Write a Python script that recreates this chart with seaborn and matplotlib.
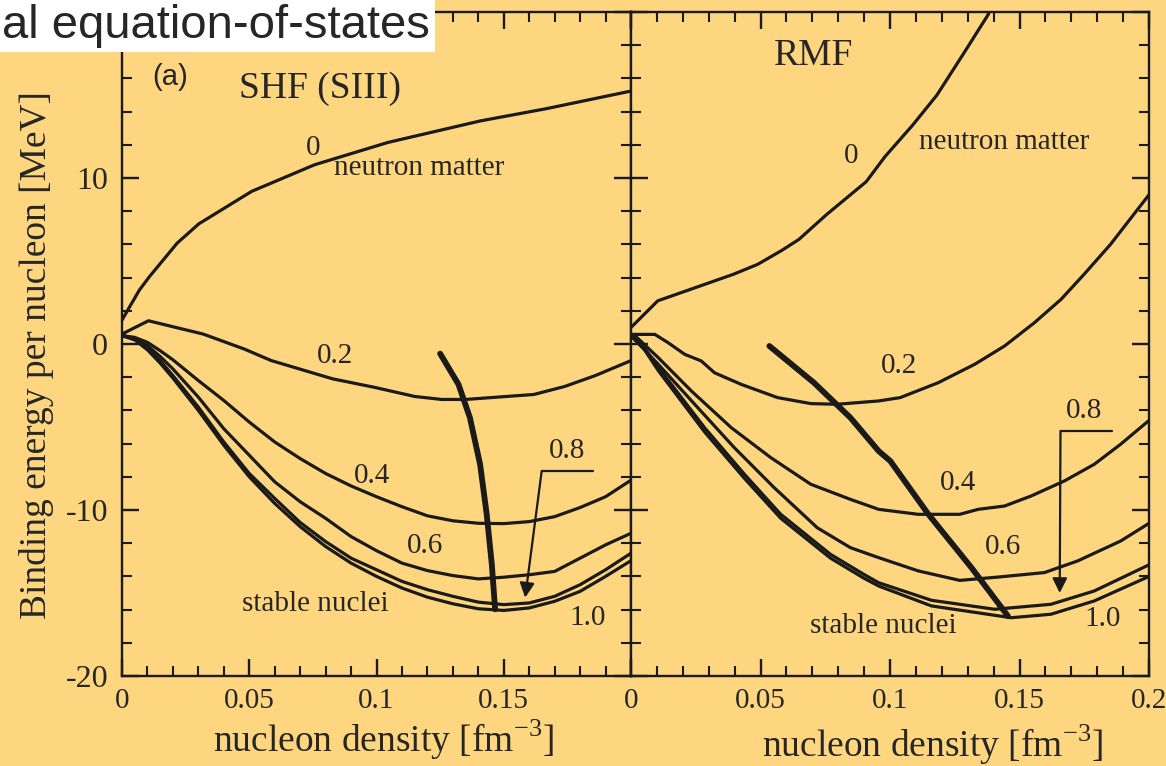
import numpy as np
import pandas as pd
import matplotlib
matplotlib.use('Agg')
import matplotlib.pyplot as plt
import seaborn as sns
from matplotlib.patches import Rectangle
from matplotlib.ticker import MultipleLocator

# ---- data (density in fm^-3, energy in MeV) ----
frac_labels = ['0', '0.2', '0.4', '0.6', '0.8', '1.0']

grid = [0, 0.005, 0.01, 0.015, 0.02, 0.03, 0.04, 0.05, 0.06, 0.07, 0.08, 0.09,
        0.1, 0.11, 0.12, 0.13, 0.14, 0.15, 0.16, 0.17, 0.18, 0.19, 0.2]

# SHF (SIII)
shf_x0 = [0, 0.0068, 0.0107, 0.0217, 0.0302, 0.051, 0.0757, 0.1044, 0.1408, 0.1668, 0.2]
shf_e0 = [1.44, 3.24, 4.04, 6.08, 7.24, 9.2, 10.8, 12.14, 13.44, 14.18, 15.24]
shf_x02 = [0, 0.0104, 0.0238, 0.0319, 0.048, 0.0587, 0.0828, 0.0989, 0.115, 0.1256,
           0.135, 0.1618, 0.1739, 0.186, 0.2]
shf_e02 = [0.6, 1.4, 0.9, 0.6, -0.3, -1.0, -2.1, -2.6, -3.16, -3.34,
           -3.34, -3.04, -2.56, -1.9, -1.0]
shf_e04 = [0.5, 0.4, 0.1, -0.4, -0.95, -2.2, -3.4, -4.7, -5.9, -6.9, -7.8, -8.55,
           -9.2, -9.8, -10.35, -10.65, -10.8, -10.82, -10.7, -10.4, -9.85, -9.2, -8.2]
shf_e06 = [0.5, 0.35, -0.1, -0.75, -1.5, -3.2, -5.1, -6.7, -8.3, -9.5, -10.5, -11.6,
           -12.45, -13.2, -13.65, -13.95, -14.15, -14.05, -13.9, -13.7, -12.9, -12.1, -11.4]
shf_e08 = [0.55, 0.3, -0.25, -1.0, -1.9, -3.8, -5.9, -7.8, -9.3, -10.75, -11.9, -12.9,
           -13.6, -14.3, -14.8, -15.2, -15.55, -15.7, -15.6, -15.2, -14.5, -13.6, -12.6]
shf_e10 = [0.5, 0.25, -0.35, -1.15, -2.05, -4.0, -6.1, -8.0, -9.6, -11.0, -12.2, -13.2,
           -14.0, -14.7, -15.25, -15.65, -15.95, -16.05, -15.9, -15.5, -14.9, -14.0, -13.05]
shf_stable_x = [0.125, 0.1322, 0.1367, 0.1407, 0.1433, 0.1453, 0.1466]
shf_stable_e = [-0.58, -2.43, -4.44, -7.25, -10.26, -13.27, -15.98]

# RMF
rmf_x0 = [0, 0.0103, 0.0249, 0.0395, 0.0489, 0.0582, 0.0648, 0.0755, 0.0908, 0.0981,
          0.1088, 0.1181, 0.1288, 0.1381]
rmf_e0 = [1.0, 2.6, 3.4, 4.2, 4.8, 5.64, 6.3, 7.8, 9.78, 11.3, 13.2, 15.0, 17.6, 19.9]
rmf_x02 = [0, 0.0092, 0.0143, 0.0207, 0.0271, 0.0322, 0.0425, 0.0566, 0.0694, 0.0796,
           0.0956, 0.1039, 0.1186, 0.1327, 0.1442, 0.1557, 0.166, 0.1749, 0.1851, 0.2]
rmf_e02 = [0.58, 0.58, 0.08, -0.62, -1.02, -1.73, -2.43, -3.23, -3.59, -3.63,
           -3.43, -3.23, -2.33, -1.22, -0.12, 1.28, 2.69, 4.2, 6.0, 9.0]
rmf_x04 = [0, 0.0022, 0.0105, 0.0233, 0.0387, 0.054, 0.0694, 0.0847, 0.0956, 0.1109,
           0.1269, 0.134, 0.1442, 0.1544, 0.1673, 0.1788, 0.189, 0.2]
rmf_e04 = [0.5, 0.4, -0.82, -2.83, -5.04, -6.85, -8.45, -9.36, -9.96, -10.26,
           -10.26, -9.96, -9.76, -9.16, -8.25, -7.25, -6.04, -4.6]
rmf_x06 = [0, 0.0105, 0.0258, 0.0399, 0.0553, 0.0719, 0.0847, 0.0956, 0.1109, 0.1269,
           0.1417, 0.1596, 0.1724, 0.189, 0.2]
rmf_e06 = [0.5, -1.22, -3.84, -6.25, -8.66, -11.07, -12.27, -12.87, -13.67, -14.24,
           -14.04, -13.77, -13.07, -11.87, -10.8]
rmf_x08 = [0, 0.005, 0.0105, 0.0284, 0.0438, 0.0578, 0.077, 0.0898, 0.0956, 0.116,
           0.1404, 0.1621, 0.1788, 0.2]
rmf_e08 = [0.5, -0.2, -1.4, -5.04, -7.85, -10.26, -12.67, -13.87, -14.38, -15.44,
           -15.98, -15.68, -14.88, -13.3]
rmf_x10 = [0, 0.005, 0.0105, 0.0284, 0.0438, 0.0578, 0.077, 0.0898, 0.0956, 0.116,
           0.1468, 0.1621, 0.1788, 0.2]
rmf_e10 = [0.5, -0.3, -1.6, -5.3, -8.1, -10.5, -12.9, -14.1, -14.58, -15.78,
           -16.49, -16.28, -15.48, -14.0]
rmf_stable_x = [0.0534, 0.0706, 0.0847, 0.0956, 0.1001, 0.1148, 0.1314, 0.1455]
rmf_stable_e = [-0.12, -2.33, -4.44, -6.45, -7.05, -10.26, -13.47, -16.39]

xtick_vals = [0, 0.05, 0.1, 0.15, 0.2]
xtick_text = ['0', '0.05', '0.1', '0.15', '0.2']
ytick_vals = [-20, -10, 0, 10, 20]
ytick_text = ['-20', '-10', '0', '10', '']

BG = '#FED67F'


def long_table(xs, es):
    rows = []
    for lab, x, e in zip(frac_labels, xs, es):
        rows.append(pd.DataFrame({'rho': x, 'E': e, 'frac': lab}))
    return pd.concat(rows, ignore_index=True)


shf_df = long_table([shf_x0, shf_x02, grid, grid, grid, grid],
                    [shf_e0, shf_e02, shf_e04, shf_e06, shf_e08, shf_e10])
rmf_df = long_table([rmf_x0, rmf_x02, rmf_x04, rmf_x06, rmf_x08, rmf_x10],
                    [rmf_e0, rmf_e02, rmf_e04, rmf_e06, rmf_e08, rmf_e10])

sns.set_theme(style='ticks')
plt.rcParams['font.family'] = ['Liberation Serif', 'DejaVu Serif']
plt.rcParams['mathtext.fontset'] = 'custom'
plt.rcParams['mathtext.rm'] = 'Liberation Serif'
plt.rcParams['axes.linewidth'] = 1.6

fig = plt.figure(figsize=(11.66, 7.66), dpi=100, facecolor=BG)
ax1 = fig.add_axes([0.1046, 0.1175, 0.4366, 0.8668])
ax2 = fig.add_axes([0.5412, 0.1175, 0.4443, 0.8668])


def draw_panel(ax, df, sx, se, left):
    ax.set_facecolor(BG)
    sns.lineplot(data=df, x='rho', y='E', units='frac', estimator=None, sort=False,
                 color='k', lw=2.3, ax=ax, legend=False)
    sns.lineplot(x=sx, y=se, sort=False, color='k', lw=4.2, ax=ax)
    ax.set_xlim(0, 0.2)
    ax.set_ylim(-20, 20)
    ax.set_xlabel('')
    ax.set_ylabel('')
    ax.set_xticks(xtick_vals)
    ax.set_xticklabels(xtick_text if not left else xtick_text[:-1] + [''])
    ax.set_yticks(ytick_vals)
    ax.set_yticklabels(ytick_text if left else [''] * 5)
    ax.xaxis.set_minor_locator(MultipleLocator(0.01))
    ax.yaxis.set_minor_locator(MultipleLocator(2))
    ax.tick_params(which='both', direction='in', top=True, right=True, color='k')
    ax.tick_params(which='major', length=12, width=1.7)
    ax.tick_params(which='minor', length=7, width=1.5)
    ax.tick_params(axis='x', labelsize=21, pad=9)
    ax.tick_params(axis='y', labelsize=23, pad=10)
    for sp in ax.spines.values():
        sp.set_color('k')
        sp.set_linewidth(1.7)


draw_panel(ax1, shf_df, shf_stable_x, shf_stable_e, True)
draw_panel(ax2, rmf_df, rmf_stable_x, rmf_stable_e, False)

fs = 21
# left panel annotations
ax1.text(0.0778, 15.4, 'SHF (SIII)', fontsize=27, ha='center', va='center')
ax1.text(0.0189, 16.1, '(a)', fontsize=21, ha='center', va='center',
         family=['Liberation Sans', 'DejaVu Sans'])
ax1.text(0.075, 11.8, '0', fontsize=fs, ha='center', va='center')
ax1.text(0.0833, 10.6, 'neutron matter', fontsize=fs, ha='left', va='center')
ax1.text(0.0837, -0.72, '0.2', fontsize=fs, ha='center', va='center')
ax1.text(0.0982, -7.95, '0.4', fontsize=fs, ha='center', va='center')
ax1.text(0.119, -12.17, '0.6', fontsize=fs, ha='center', va='center')
ax1.text(0.1747, -6.45, '0.8', fontsize=fs, ha='center', va='center')
ax1.text(0.183, -16.5, '1.0', fontsize=fs, ha='center', va='center')
ax1.text(0.0758, -15.66, 'stable nuclei', fontsize=fs, ha='center', va='center')
ax1.plot([0.1649, 0.185], [-7.65, -7.65], color='k', lw=1.6)
ax1.annotate('', xy=(0.1584, -15.28), xytext=(0.1649, -7.65),
             arrowprops=dict(arrowstyle='-|>', color='k', lw=1.6, mutation_scale=22,
                             shrinkA=0, shrinkB=0))

# right panel annotations
ax2.text(0.0706, 17.35, 'RMF', fontsize=27, ha='center', va='center')
ax2.text(0.0848, 11.3, '0', fontsize=fs, ha='center', va='center')
ax2.text(0.144, 12.2, 'neutron matter', fontsize=fs, ha='center', va='center')
ax2.text(0.1033, -1.33, '0.2', fontsize=fs, ha='center', va='center')
ax2.text(0.1263, -8.37, '0.4', fontsize=fs, ha='center', va='center')
ax2.text(0.1436, -12.23, '0.6', fontsize=fs, ha='center', va='center')
ax2.text(0.175, -4.04, '0.8', fontsize=fs, ha='center', va='center')
ax2.text(0.182, -16.57, '1.0', fontsize=fs, ha='center', va='center')
ax2.text(0.0975, -16.99, 'stable nuclei', fontsize=fs, ha='center', va='center')
ax2.plot([0.1658, 0.1858], [-5.24, -5.24], color='k', lw=1.6)
ax2.annotate('', xy=(0.1655, -15.0), xytext=(0.1658, -5.24),
             arrowprops=dict(arrowstyle='-|>', color='k', lw=1.6, mutation_scale=22,
                             shrinkA=0, shrinkB=0))

# axis labels
fig.text(37 / 1166, 0.537, 'Binding energy per nucleon [MeV]', rotation=90,
         fontsize=27, ha='center', va='center')
fig.text(383 / 1166, 1 - 740 / 766, 'nucleon density [fm$^{\\mathrm{-3}}$]',
         fontsize=27, ha='center', va='center')
fig.text(932 / 1166, 1 - 745 / 766, 'nucleon density [fm$^{\\mathrm{-3}}$]',
         fontsize=27, ha='center', va='center')

# clipped slide title in a white box
fig.add_artist(Rectangle((0, 1 - 52 / 766), 435 / 1166, 52 / 766,
                         transform=fig.transFigure, facecolor='white',
                         edgecolor='none', zorder=5))
fig.text(2 / 1166, 1 - 38 / 766, 'al equation-of-states', fontsize=34,
         family=['Liberation Sans', 'DejaVu Sans'], ha='left', va='baseline',
         zorder=6)

fig.savefig('out.png', dpi=100, facecolor=BG)
